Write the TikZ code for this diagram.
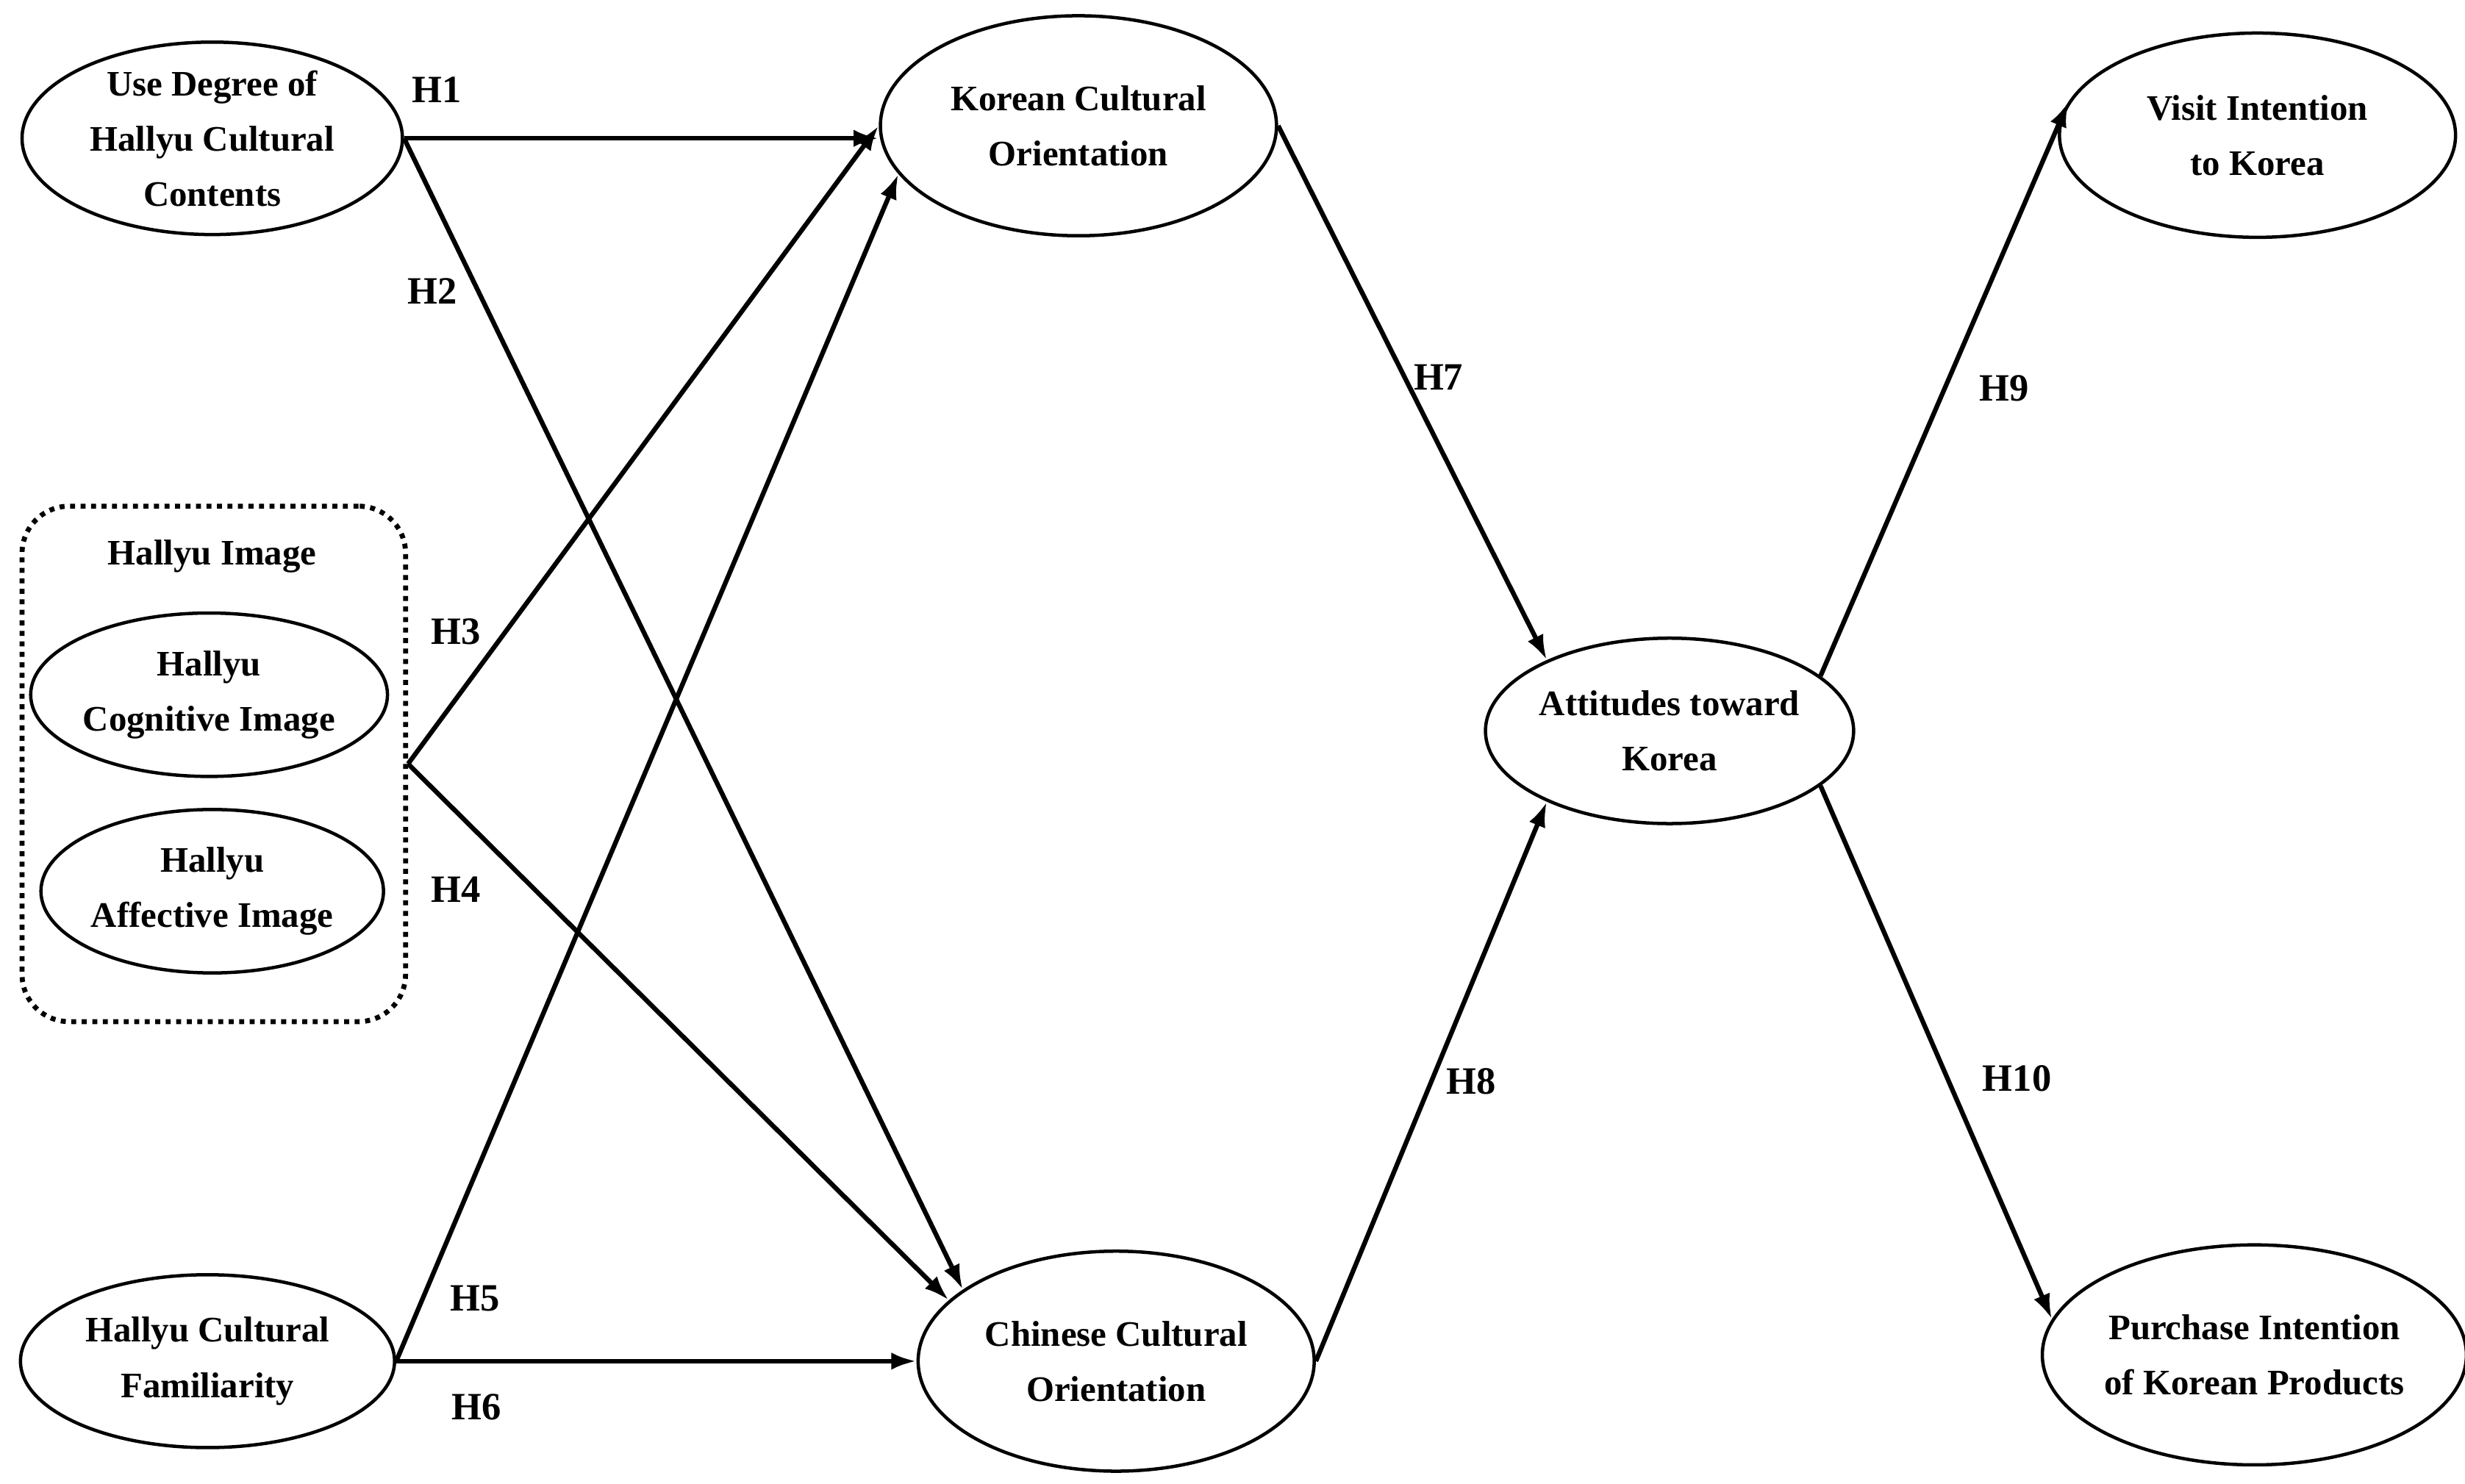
\documentclass[tikz,border=0pt]{standalone}
\usepackage{fontspec}
\setmainfont{Liberation Serif}
\usetikzlibrary{shapes.geometric,arrows.meta}
\tikzset{
  var/.style={ellipse, draw, line width=1.2pt, align=center, inner sep=0pt,
    font=\bfseries\fontsize{13}{20}\selectfont},
  path/.style={-{Latex[length=0.32cm,width=0.22cm]}, line width=1.7pt},
  hyp/.style={font=\bfseries\fontsize{14}{16}\selectfont}
}
\begin{document}
\begin{tikzpicture}[x=0.02cm,y=-0.02cm]
\useasboundingbox (0,0) rectangle (1568,944);
% variables
\node[var, minimum width=4.84cm, minimum height=2.44cm] (use) at (135,88) {Use Degree of\\Hallyu Cultural\\Contents};
\node[draw, line width=1.8pt, dotted, rounded corners=0.6cm, minimum width=4.88cm, minimum height=6.56cm] (img) at (136,486) {};
\node[font=\bfseries\fontsize{13}{20}\selectfont] (imglab) at (135,354) {Hallyu Image};
\node[var, minimum width=4.24cm, minimum height=2.08cm] (cog) at (133,442) {Hallyu\\Cognitive Image};
\node[var, minimum width=4.2cm, minimum height=2.08cm] (aff) at (135,567) {Hallyu\\Affective Image};
\node[var, minimum width=4.76cm, minimum height=2.2cm] (fam) at (132,866) {Hallyu Cultural\\Familiarity};
\node[var, minimum width=5.04cm, minimum height=2.8cm] (kor) at (686,80) {Korean Cultural\\Orientation};
\node[var, minimum width=5.04cm, minimum height=2.8cm] (chi) at (710,866) {Chinese Cultural\\Orientation};
\node[var, minimum width=4.56cm, minimum height=2.36cm] (att) at (1062,465) {Attitudes toward\\Korea};
\node[var, minimum width=5.04cm, minimum height=2.6cm] (vis) at (1436,86) {Visit Intention\\to Korea};
\node[var, minimum width=5.04cm, minimum height=2.8cm] (pur) at (1434,862) {Purchase Intention\\of Korean Products};
% paths
\draw[path] (use.east) -- (use.east -| kor.west);
\draw[path] (use.east) -- (chi.155);
\draw[path] (img.east) -- (kor.west);
\draw[path] (img.east) -- (chi.160);
\draw[path] (fam.east) -- (kor.195);
\draw[path] (fam.east) -- (chi.west);
\draw[path] (kor.east) -- (att.150);
\draw[path] (chi.east) -- (att.210);
\draw[path] (att.20) -- (vis.170);
\draw[path] (att.340) -- (pur.170);
% labels
\node[hyp] (h1) at (278,57) {H1};
\node[hyp] (h2) at (275,185) {H2};
\node[hyp] (h3) at (290,402) {H3};
\node[hyp] (h4) at (290,566) {H4};
\node[hyp] (h5) at (302,826) {H5};
\node[hyp] (h6) at (303,895) {H6};
\node[hyp] (h7) at (915,240) {H7};
\node[hyp] (h8) at (936,688) {H8};
\node[hyp] (h9) at (1275,247) {H9};
\node[hyp] (h10) at (1283,686) {H10};
\end{tikzpicture}
\end{document}
